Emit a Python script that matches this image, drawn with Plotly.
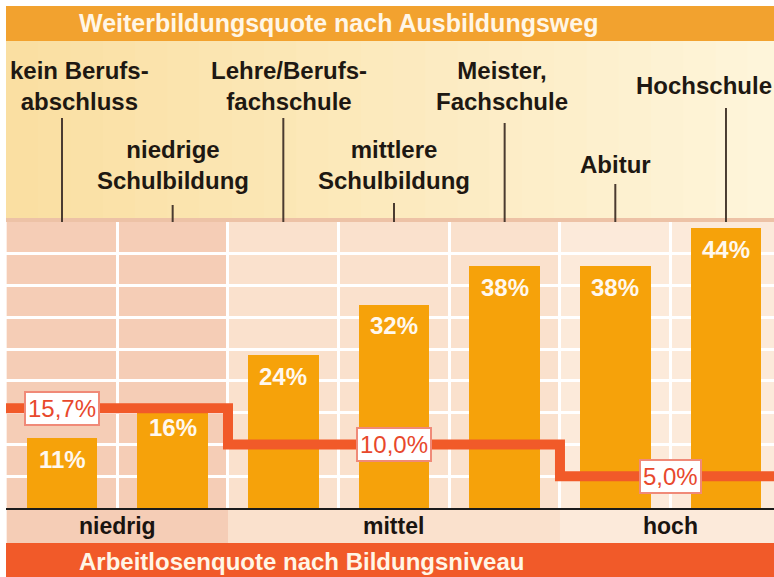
import plotly.graph_objects as go

# Weiterbildungsquote je Ausbildungsweg
categories = [
    "kein Berufsabschluss", "niedrige Schulbildung", "Lehre/Berufsfachschule",
    "mittlere Schulbildung", "Meister, Fachschule", "Abitur", "Hochschule",
]
category_labels = [
    "kein Berufs-<br>abschluss", "niedrige<br>Schulbildung", "Lehre/Berufs-<br>fachschule",
    "mittlere<br>Schulbildung", "Meister,<br>Fachschule", "Abitur", "Hochschule",
]
weiterbildung_pct = [11, 16, 24, 32, 38, 38, 44]

# Arbeitslosenquote je Bildungsniveau (first/last category index of each level)
levels = ["niedrig", "mittel", "hoch"]
level_first = [0, 2, 5]
level_last = [1, 4, 6]
arbeitslos_pct = [15.7, 10.0, 5.0]
arbeitslos_labels = ["15,7%", "10,0%", "5,0%"]

# ---- layout helpers (positions in page pixels) ----
W, H = 774, 577
LEFT, TOP, BOTTOM = 6, 222, 508
X_RANGE = [-0.506, 6.434]
FONT = "Liberation Sans"


def px(x):
    return (x - LEFT) / (W - LEFT)


def py(y):
    return (BOTTOM - y) / (BOTTOM - TOP)


def mix(c1, c2, t):
    a = [int(c1[i:i + 2], 16) for i in (1, 3, 5)]
    b = [int(c2[i:i + 2], 16) for i in (1, 3, 5)]
    return "#" + "".join(f"{round(a[k] + (b[k] - a[k]) * t):02x}" for k in range(3))


label_shift = [17, 0, 6, 0, -3, 0, -22]
label_center_y = [86, 165, 86, 165, 86, 165, 85]
tick_top = [118, 205, 118, 203, 123, 184, 108]
level_bg = ["#F5CDB6", "#FAE1CD", "#FCEADA"]
box_x = [0, 3, 5.5]

fig = go.Figure()

fig.add_trace(go.Bar(
    x=list(range(len(categories))),
    y=weiterbildung_pct,
    width=0.64,
    marker=dict(color="#F6A20A", line_width=0),
    hovertext=categories,
))

step_x = [X_RANGE[0] - 0.1] + [last + 0.5 for last in level_last[:-1]] + [X_RANGE[1] + 0.1]
step_y = arbeitslos_pct + [arbeitslos_pct[-1]]
fig.add_trace(go.Scatter(
    x=step_x, y=step_y, mode="lines", line_shape="hv",
    line=dict(color="#F15A29", width=10),
))

shapes = []
# top banner
shapes.append(dict(type="rect", xref="paper", yref="paper", x0=px(6), x1=px(780),
                   y0=py(41), y1=py(6), fillcolor="#F2A22F", line_width=0, layer="below"))
# label area, horizontal gradient
n_strips = 24
for k in range(n_strips):
    x0 = 6 + (780 - 6) * k / n_strips
    x1 = 6 + (780 - 6) * (k + 1) / n_strips + 1
    shapes.append(dict(type="rect", xref="paper", yref="paper", x0=px(x0), x1=px(x1),
                       y0=py(218), y1=py(41), fillcolor=mix("#FADFA2", "#FEF5DA", k / (n_strips - 1)),
                       line_width=0, layer="below"))
# thin band at the plot top
shapes.append(dict(type="rect", xref="paper", yref="paper", x0=px(6), x1=px(780),
                   y0=py(222), y1=py(218), fillcolor="#EDC2A6", line_width=0, layer="below"))
# level backgrounds (plot + label band)
for i in range(len(levels)):
    shapes.append(dict(type="rect", xref="x", yref="paper",
                       x0=level_first[i] - 0.5, x1=level_last[i] + 0.5,
                       y0=py(543), y1=1, fillcolor=level_bg[i], line_width=0, layer="below"))
# bottom banner
shapes.append(dict(type="rect", xref="paper", yref="paper", x0=px(6), x1=px(780),
                   y0=py(580), y1=py(543), fillcolor="#F15A29", line_width=0, layer="below"))
# leader lines from category labels
for i in range(len(categories)):
    shapes.append(dict(type="line", xref="x", yref="paper", x0=i, x1=i,
                       y0=py(tick_top[i]), y1=py(222), line=dict(color="#4A3B30", width=2)))

annotations = []
annotations.append(dict(text="<b>Weiterbildungsquote nach Ausbildungsweg</b>", xref="paper", yref="paper",
                        x=px(77), y=py(23), xanchor="left", yanchor="middle", showarrow=False,
                        font=dict(family=FONT, size=25, color="#FFF6E6")))
annotations.append(dict(text="<b>Arbeitlosenquote nach Bildungsniveau</b>", xref="paper", yref="paper",
                        x=px(77), y=py(561), xanchor="left", yanchor="middle", showarrow=False,
                        font=dict(family=FONT, size=24, color="#FFF6E6")))
for i, lab in enumerate(category_labels):
    annotations.append(dict(text=f"<b>{lab}</b>", xref="x", yref="paper", x=i, xshift=label_shift[i],
                            y=py(label_center_y[i]), xanchor="center", yanchor="middle", showarrow=False,
                            font=dict(family=FONT, size=24, color="#1E1812")))
for i, v in enumerate(weiterbildung_pct):
    annotations.append(dict(text=f"<b>{v}%</b>", x=i, y=v, yshift=-21, xanchor="center", yanchor="middle",
                            showarrow=False, font=dict(family=FONT, size=24, color="#FFF8EE")))
for i, lev in enumerate(levels):
    annotations.append(dict(text=f"<b>{lev}</b>", xref="x", yref="paper",
                            x=(level_first[i] + level_last[i]) / 2, y=py(526),
                            xanchor="center", yanchor="middle", showarrow=False,
                            font=dict(family=FONT, size=23, color="#1A1410")))
    annotations.append(dict(text=arbeitslos_labels[i], x=box_x[i], y=arbeitslos_pct[i],
                            xanchor="center", yanchor="middle", showarrow=False,
                            bgcolor="#FFFFFF", bordercolor="#F08A78", borderwidth=2, borderpad=2,
                            font=dict(family=FONT, size=24, color="#E8482C")))

fig.update_layout(
    width=W, height=H,
    margin=dict(l=LEFT, r=0, t=TOP, b=H - BOTTOM, pad=0),
    paper_bgcolor="#FFFFFF",
    plot_bgcolor="rgba(0,0,0,0)",
    showlegend=False,
    bargap=0,
    xaxis=dict(
        range=X_RANGE, tickvals=[i + 0.5 for i in range(len(categories))],
        showticklabels=False, ticks="", showgrid=True, gridcolor="#FFFFFF", gridwidth=3,
        zeroline=False, showline=True, linecolor="#1B1B1B", linewidth=2, fixedrange=True,
    ),
    yaxis=dict(
        range=[0, 45], dtick=5, showticklabels=False, ticks="", showgrid=True,
        gridcolor="#FFFFFF", gridwidth=3, zeroline=False, showline=False, fixedrange=True,
    ),
    shapes=shapes,
    annotations=annotations,
)

# drop the default page margin so the 774x577 figure fills the window exactly
fig.write_html(
    "out.html",
    config={"displayModeBar": False},
    post_script="document.body.style.margin = '0';",
)
